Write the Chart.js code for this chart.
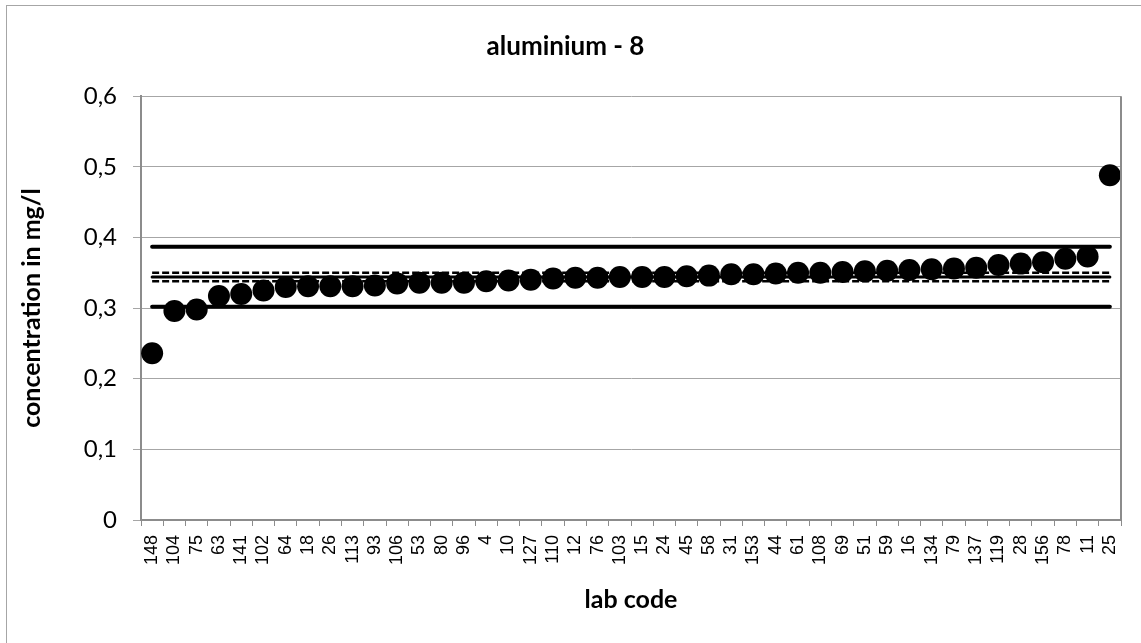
<!DOCTYPE html>
<html>
<head>
<meta charset="utf-8">
<script src="https://cdn.jsdelivr.net/npm/chart.js@4"></script>
<style>
  body { margin: 0; overflow: hidden; background: #fff; }
  #wrap { position: relative; width: 1141px; height: 643px; }
  #frame { position: absolute; left: 6px; top: 5px; width: 1200px; height: 700px;
           border: 1px solid #a6a6a6; pointer-events: none; }
</style>
</head>
<body>
<div id="wrap">
  <div id="frame"></div>
  <canvas id="grafico" width="1141" height="643"></canvas>
</div>
<script>
// lab codes, sorted by result
const labs = ["148", "104", "75", "63", "141", "102", "64", "18", "26", "113", "93", "106", "53", "80", "96",
  "4", "10", "127", "110", "12", "76", "103", "15", "24", "45", "58", "31", "153", "44", "61", "108",
  "69", "51", "59", "16", "134", "79", "137", "119", "28", "156", "78", "11", "25"];
const results = [0.236, 0.296, 0.298, 0.317, 0.320, 0.325, 0.330, 0.331, 0.331, 0.331, 0.332, 0.335, 0.336, 0.336, 0.336,
  0.338, 0.339, 0.340, 0.342, 0.343, 0.343, 0.344, 0.344, 0.344, 0.345, 0.346, 0.348, 0.348, 0.349, 0.350, 0.350,
  0.351, 0.352, 0.353, 0.354, 0.355, 0.356, 0.357, 0.361, 0.363, 0.365, 0.370, 0.373, 0.488];

// reference lines
const assigned = 0.344;
const uncLow = 0.338;
const uncHigh = 0.350;
const limitLow = 0.302;
const limitHigh = 0.387;

const yTicks = [0, 0.1, 0.2, 0.3, 0.4, 0.5, 0.6];

const first = labs[0];
const last = labs[labs.length - 1];
function hline(v) {
  return [{ x: first, y: v }, { x: last, y: v }];
}

// right edge of the plot area
const plotBorder = {
  id: "plotBorder",
  afterDraw(chart) {
    const a = chart.chartArea;
    const ctx = chart.ctx;
    ctx.save();
    ctx.strokeStyle = "#8c8c8c";
    ctx.lineWidth = 2;
    ctx.beginPath();
    ctx.moveTo(a.right, a.top);
    ctx.lineTo(a.right, a.bottom);
    ctx.stroke();
    ctx.restore();
  }
};

new Chart(document.getElementById("grafico"), {
  type: "line",
  data: {
    labels: labs,
    datasets: [
      {
        label: "results",
        data: results,
        showLine: false,
        pointRadius: 11,
        pointBackgroundColor: "#000",
        pointBorderWidth: 0,
        order: 2,
      },
      {
        label: "assigned",
        data: hline(assigned),
        borderColor: "#000",
        borderWidth: 3,
        pointRadius: 0,
        borderCapStyle: "round",
        order: 1,
      },
      {
        label: "unc low",
        data: hline(uncLow),
        borderColor: "#000",
        borderWidth: 2.5,
        borderDash: [7, 3],
        pointRadius: 0,
        order: 1,
      },
      {
        label: "unc high",
        data: hline(uncHigh),
        borderColor: "#000",
        borderWidth: 2.5,
        borderDash: [7, 3],
        pointRadius: 0,
        order: 1,
      },
      {
        label: "limit low",
        data: hline(limitLow),
        borderColor: "#000",
        borderWidth: 4,
        pointRadius: 0,
        borderCapStyle: "round",
        order: 1,
      },
      {
        label: "limit high",
        data: hline(limitHigh),
        borderColor: "#000",
        borderWidth: 4,
        pointRadius: 0,
        borderCapStyle: "round",
        order: 1,
      },
    ],
  },
  options: {
    responsive: false,
    animation: false,
    layout: {
      padding: { left: 10, right: 20, top: 0, bottom: 10 },
    },
    plugins: {
      legend: { display: false },
      tooltip: { enabled: false },
      title: {
        display: true,
        text: "aluminium - 8",
        color: "#000",
        font: { family: "Lato", size: 26, weight: "bold" },
        padding: { top: 31, bottom: 34 },
      },
    },
    scales: {
      x: {
        type: "category",
        offset: true,
        grid: {
          offset: true,
          drawOnChartArea: false,
          drawTicks: true,
          tickLength: 6,
          color: "#8c8c8c",
        },
        border: { color: "#8c8c8c", width: 2 },
        ticks: {
          autoSkip: false,
          minRotation: 90,
          maxRotation: 90,
          padding: 9,
          color: "#000",
          font: { family: "Liberation Sans", size: 18 },
        },
        title: {
          display: true,
          text: "lab code",
          color: "#000",
          font: { family: "Lato", size: 25, weight: "bold" },
          padding: { top: 0, bottom: 18 },
        },
        afterFit(scale) { scale.height = 113; },
      },
      y: {
        min: 0,
        max: 0.6,
        afterBuildTicks(scale) { scale.ticks = yTicks.map(v => ({ value: v })); },
        grid: {
          color: "#a6a6a6",
          lineWidth: 1,
          tickLength: 8,
        },
        border: { color: "#8c8c8c", width: 2 },
        ticks: {
          padding: 16,
          color: "#000",
          font: { family: "Lato", size: 24 },
          callback: v => v === 0 ? "0" : v.toFixed(1).replace(".", ","),
        },
        title: {
          display: true,
          text: "concentration in mg/l",
          color: "#000",
          font: { family: "Lato", size: 25, weight: "bold" },
          padding: { top: 7, bottom: 0 },
        },
        afterFit(scale) { scale.width = 131; },
      },
    },
  },
  plugins: [plotBorder],
});
</script>
</body>
</html>
